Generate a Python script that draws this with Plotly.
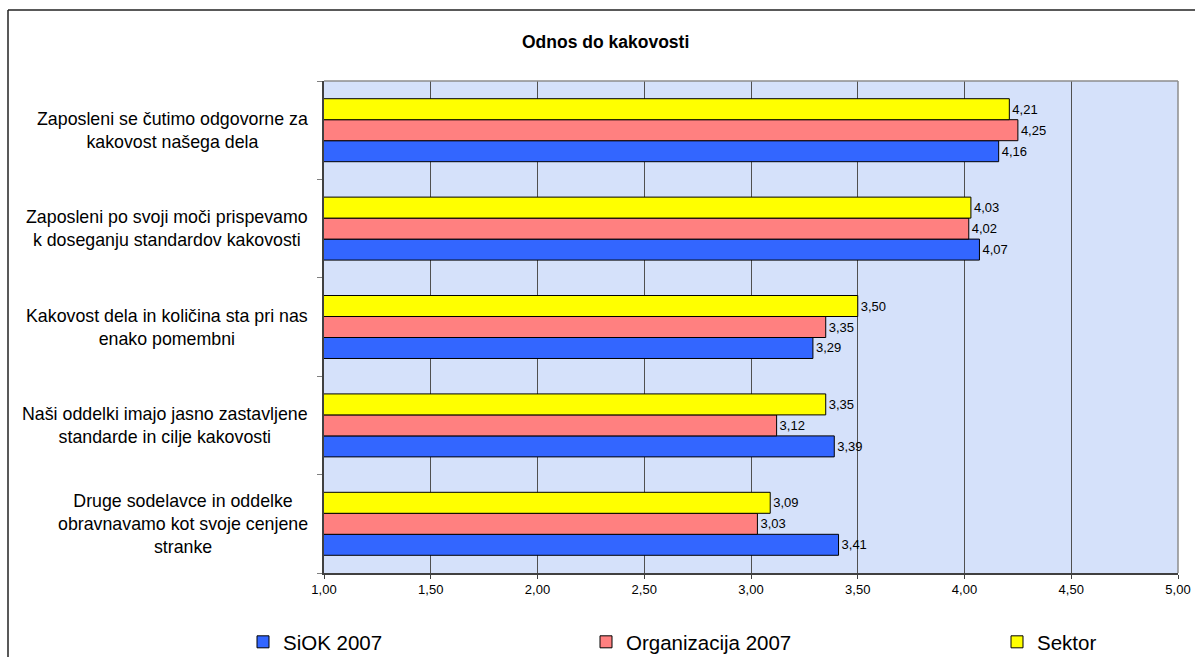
import plotly.graph_objects as go

# Survey statements (top to bottom as displayed)
categories = [
    "Zaposleni se čutimo odgovorne za kakovost našega dela",
    "Zaposleni po svoji moči prispevamo k doseganju standardov kakovosti",
    "Kakovost dela in količina sta pri nas enako pomembni",
    "Naši oddelki imajo jasno zastavljene standarde in cilje kakovosti",
    "Druge sodelavce in oddelke obravnavamo kot svoje cenjene stranke",
]
# Wrapped labels drawn beside the axis
category_labels = [
    "Zaposleni se čutimo odgovorne za<br>kakovost našega dela",
    "Zaposleni po svoji moči prispevamo<br>k doseganju standardov kakovosti",
    "Kakovost dela in količina sta pri nas<br>enako pomembni",
    "Naši oddelki imajo jasno zastavljene<br>standarde in cilje kakovosti",
    "Druge sodelavce in oddelke<br>obravnavamo kot svoje cenjene<br>stranke",
]

siok_2007 = [4.16, 4.07, 3.29, 3.39, 3.41]
organizacija_2007 = [4.25, 4.02, 3.35, 3.12, 3.03]
sektor = [4.21, 4.03, 3.50, 3.35, 3.09]

x_ticks = [1.0, 1.5, 2.0, 2.5, 3.0, 3.5, 4.0, 4.5, 5.0]

FONT = "Arial, Liberation Sans, sans-serif"

series = [
    ("SiOK 2007", siok_2007, "#3366FF", "legend"),
    ("Organizacija 2007", organizacija_2007, "#FF8080", "legend2"),
    ("Sektor", sektor, "#FFFF00", "legend3"),
]

fig = go.Figure()
for name, values, color, leg in series:
    fig.add_trace(go.Bar(
        y=categories, x=values, name=name, orientation="h",
        marker=dict(color=color, line=dict(color="black", width=1)),
        texttemplate="%{x:.2f}", textposition="outside",
        textfont=dict(family=FONT, size=13, color="black"),
        constraintext="none", cliponaxis=False,
        legend=leg,
    ))

W, H = 1195, 657
L, R, T, B = 324, W - 1178, 81, H - 573
pw, ph = W - L - R, H - T - B


def px_x(p):
    return (p - L) / pw


def px_y(p):
    return (H - B - p) / ph


legend_common = dict(
    orientation="h", yanchor="middle", xanchor="left",
    y=px_y(642), font=dict(family=FONT, size=20.5, color="black"),
    bgcolor="rgba(0,0,0,0)", borderwidth=0, itemclick=False,
)

annotations = [
    dict(xref="paper", yref="y", x=0, y=cat, text=lab, showarrow=False,
         xanchor="right", yanchor="middle", align="center", xshift=-14,
         font=dict(family=FONT, size=17.8, color="black"))
    for cat, lab in zip(categories, category_labels)
]
annotations.append(dict(
    xref="paper", yref="paper", x=px_x(605), y=px_y(42),
    text="<b>Odnos do kakovosti</b>", showarrow=False,
    xanchor="center", yanchor="middle",
    font=dict(family=FONT, size=17.5, color="black"),
))

frame = "#222222"
plot_edge = "#8c8c8c"
shapes = [
    # outer frame (top and left edges)
    dict(type="line", xref="paper", yref="paper", x0=px_x(8), x1=px_x(1230),
         y0=px_y(10), y1=px_y(10), line=dict(color=frame, width=1.5)),
    dict(type="line", xref="paper", yref="paper", x0=px_x(8), x1=px_x(8),
         y0=px_y(10), y1=px_y(700), line=dict(color=frame, width=1.5)),
    # plot-area top and right edges
    dict(type="line", xref="paper", yref="paper", x0=0, x1=1, y0=1, y1=1,
         line=dict(color=plot_edge, width=1.5), layer="above"),
    dict(type="line", xref="paper", yref="paper", x0=1, x1=1, y0=0, y1=1,
         line=dict(color=plot_edge, width=1.5), layer="above"),
]

fig.update_layout(
    width=W, height=H,
    margin=dict(l=L, r=R, t=T, b=B, pad=0, autoexpand=False),
    paper_bgcolor="white", plot_bgcolor="#D5E1FA",
    barmode="group", bargap=0.36, bargroupgap=0,
    separators=",.",
    showlegend=True,
    legend=dict(legend_common, x=px_x(243)),
    legend2=dict(legend_common, x=px_x(586)),
    legend3=dict(legend_common, x=px_x(997)),
    annotations=annotations,
    shapes=shapes,
    xaxis=dict(
        range=[1, 5], tickvals=x_ticks, tickformat=".2f",
        showgrid=True, gridcolor="#505050", gridwidth=1,
        zeroline=False, showline=True, linecolor="#404040", linewidth=1.5,
        ticks="outside", ticklen=4, tickcolor="#404040",
        tickfont=dict(family=FONT, size=13, color="black"),
    ),
    yaxis=dict(
        categoryorder="array", categoryarray=categories[::-1],
        showticklabels=False, showgrid=False, zeroline=False,
        showline=True, linecolor="#404040", linewidth=1.5,
        ticks="outside", tickson="boundaries", ticklen=5, tickcolor="#808080",
    ),
)

fig.write_html("out.html")
